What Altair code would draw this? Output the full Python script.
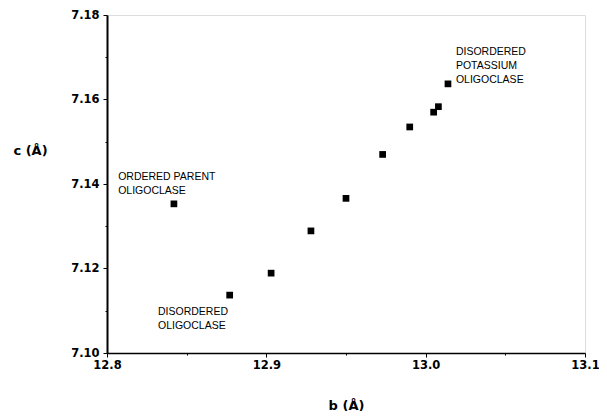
import altair as alt
import pandas as pd

# Data
b_values = [12.842, 12.877, 12.903, 12.928, 12.950, 12.973, 12.990, 13.005, 13.008, 13.014]
c_values = [7.1353, 7.1137, 7.1189, 7.1289, 7.1366, 7.1470, 7.1535, 7.1570, 7.1583, 7.1637]

label_texts = ["ORDERED PARENT\nOLIGOCLASE", "DISORDERED\nOLIGOCLASE", "DISORDERED\nPOTASSIUM\nOLIGOCLASE"]
label_b = [12.807, 12.832, 13.019]
label_c = [7.1428, 7.1109, 7.1725]

x_ticks = [12.8, 12.85, 12.9, 12.95, 13.0, 13.05, 13.1]
y_ticks = [7.10, 7.11, 7.12, 7.13, 7.14, 7.15, 7.16, 7.17, 7.18]

pts = pd.DataFrame({"b": b_values, "c": c_values})
labels = pd.DataFrame({"b": label_b, "c": label_c, "t": label_texts})

x_major = "abs(datum.value*10 - round(datum.value*10)) < 0.01"
y_major = "abs(datum.value*50 - round(datum.value*50)) < 0.01"

xscale = alt.Scale(domain=[12.8, 13.1], nice=False, zero=False)
yscale = alt.Scale(domain=[7.10, 7.18], nice=False, zero=False)

xaxis = alt.Axis(
    title="b (Å)", values=x_ticks, grid=False,
    labelExpr=f"{x_major} ? format(datum.value, '.1f') : ''",
    tickSize={"condition": {"test": x_major, "value": 4}, "value": 2},
    labelFont="DejaVu Sans", labelFontWeight="bold", labelFontSize=11.5,
    labelColor="black", labelPadding=2, labelOverlap=False, labelFlush=False,
    domainColor="black", domainWidth=1.5, tickColor="black", tickWidth=1,
    titleFont="DejaVu Sans", titleFontWeight="bold", titleFontSize=13,
    titleColor="black", titleX=239, titleY=56, titleAlign="center",
    titleBaseline="alphabetic",
)
yaxis = alt.Axis(
    title="c (Å)", values=y_ticks, grid=False,
    labelExpr=f"{y_major} ? format(datum.value, '.2f') : ''",
    tickSize={"condition": {"test": y_major, "value": 4}, "value": 2},
    labelFont="DejaVu Sans", labelFontWeight="bold", labelFontSize=11.5,
    labelColor="black", labelPadding=4, labelOverlap=False, labelFlush=False,
    domainColor="black", domainWidth=2, tickColor="black", tickWidth=1,
    titleFont="DejaVu Sans", titleFontWeight="bold", titleFontSize=13,
    titleColor="black", titleAngle=0, titleX=-77, titleY=135,
    titleAlign="center", titleBaseline="middle",
)

points = alt.Chart(pts).mark_square(size=45, color="black", opacity=1).encode(
    x=alt.X("b:Q", scale=xscale, axis=xaxis),
    y=alt.Y("c:Q", scale=yscale, axis=yaxis),
)

texts = alt.Chart(labels).mark_text(
    align="left", baseline="top", lineBreak="\n", lineHeight=14,
    font="Liberation Sans", fontSize=10.5, color="black",
).encode(
    x=alt.X("b:Q", scale=xscale),
    y=alt.Y("c:Q", scale=yscale),
    text="t:N",
)

chart = (points + texts).properties(
    width=478, height=338,
    autosize=alt.AutoSizeParams(type="none"),
    padding={"left": 99, "top": 7, "right": 14, "bottom": 58},
).configure_view(stroke="black", strokeWidth=1).configure(background="white")

chart.save("out.html", embed_options={"renderer": "svg", "actions": False})
